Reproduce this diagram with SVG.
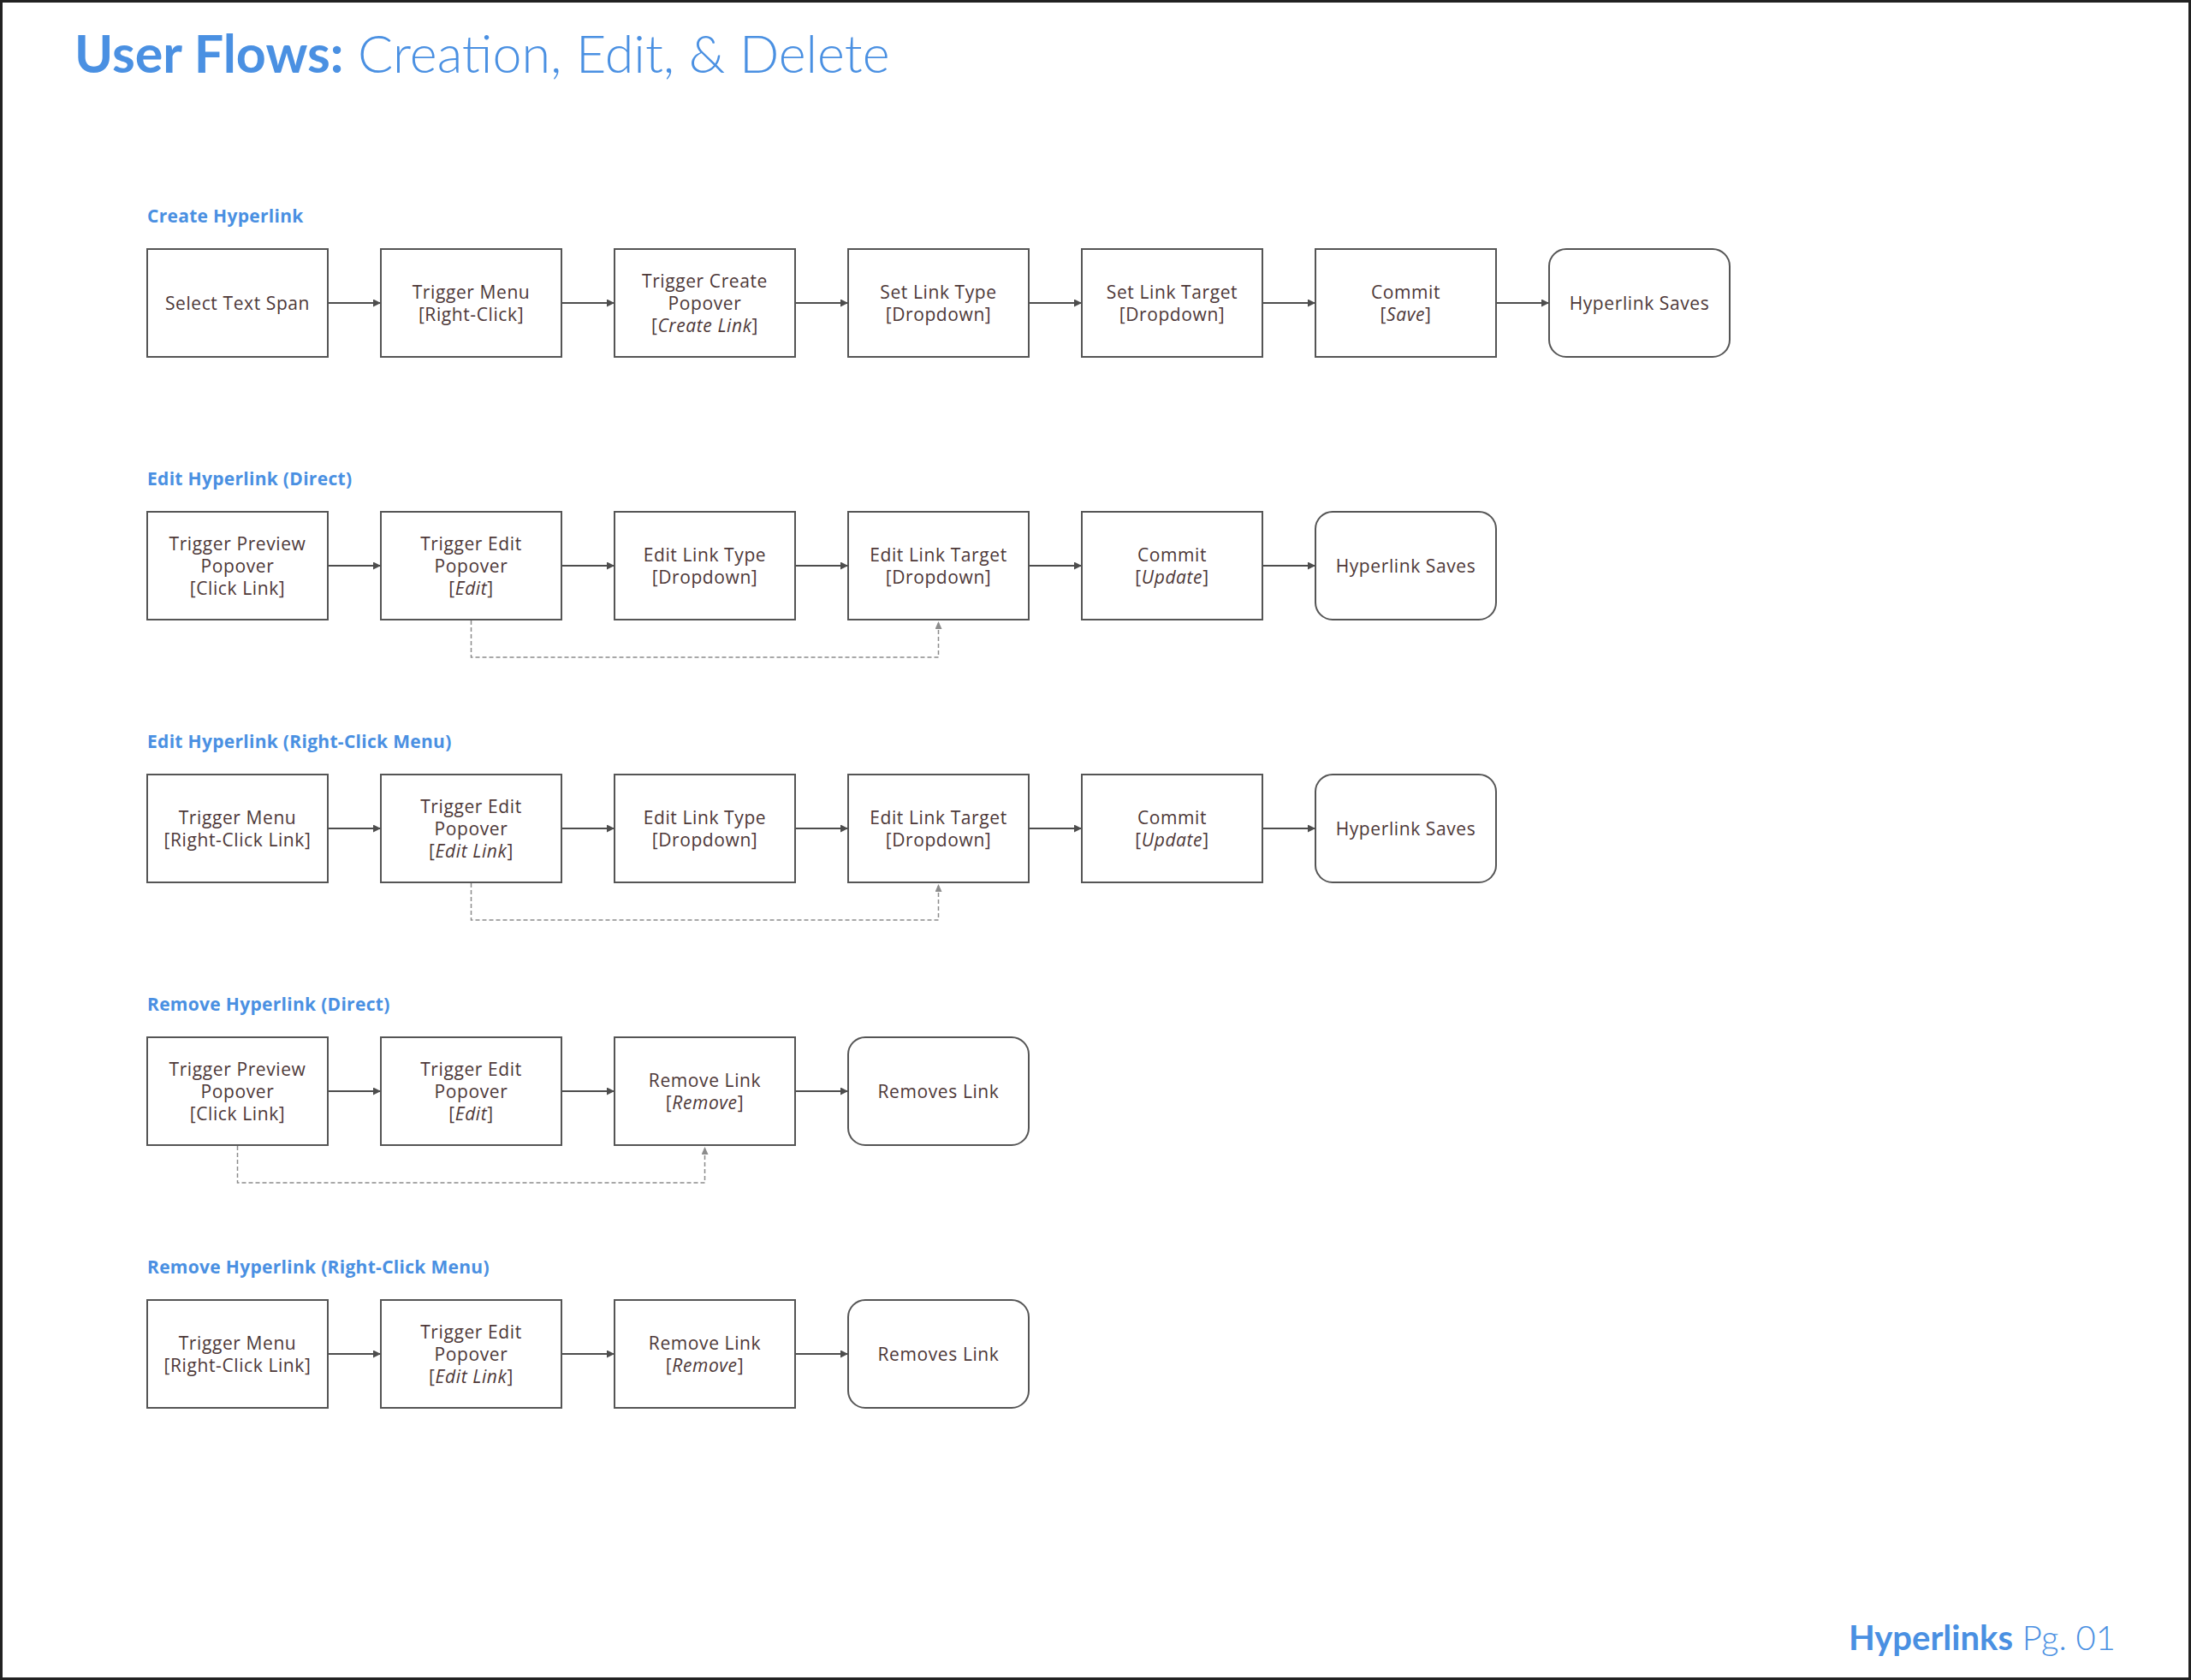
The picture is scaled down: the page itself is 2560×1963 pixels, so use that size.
<svg xmlns="http://www.w3.org/2000/svg" width="2560" height="1963" viewBox="0 0 2560 1963">
<defs>
<style>
.bx{fill:#ffffff;stroke:#555555;stroke-width:2}
.t{font-family:"Open Sans","Liberation Sans",sans-serif;font-size:21px;letter-spacing:0.6px;fill:#4d3838;text-anchor:middle}
.i{font-style:italic}
.lbl{font-family:"Open Sans","Liberation Sans",sans-serif;font-size:21px;letter-spacing:0.3px;font-weight:700;fill:#4a90e2}
.ar{stroke:#4d4d4d;stroke-width:2;fill:none;marker-end:url(#ah)}
.da{stroke:#8c8c8c;stroke-width:1.5;fill:none;stroke-dasharray:5 3;marker-end:url(#ahg)}
</style>
<marker id="ah" markerUnits="userSpaceOnUse" markerWidth="10" markerHeight="10" refX="9" refY="4.5" orient="auto"><path d="M0,0 L9,4.5 L0,9 z" fill="#4d4d4d"/></marker>
<marker id="ahg" markerUnits="userSpaceOnUse" markerWidth="10" markerHeight="10" refX="9" refY="4" orient="auto"><path d="M0,0 L9,4 L0,8 z" fill="#8c8c8c"/></marker>
</defs>
<rect x="0" y="0" width="2560" height="1963" fill="#ffffff"/>
<rect x="1.5" y="1.5" width="2557" height="1960" fill="none" stroke="#222222" stroke-width="3"/>

<g id="title">
<text x="87" y="85" font-family="Lato,'Open Sans',sans-serif" font-size="61" fill="#4a90e2"><tspan font-weight="700">User Flows:</tspan><tspan font-weight="300"> Creation, Edit, &amp; Delete</tspan></text>
</g>
<g id="footer">
<text x="2472" y="1928" text-anchor="end" font-family="Lato,'Open Sans',sans-serif" font-size="40" fill="#4a90e2"><tspan font-weight="700">Hyperlinks</tspan><tspan font-weight="300"> Pg. 01</tspan></text>
</g>

<g id="labels">
<text class="lbl" x="172" y="260">Create Hyperlink</text>
<text class="lbl" x="172" y="567">Edit Hyperlink (Direct)</text>
<text class="lbl" x="172" y="874">Edit Hyperlink (Right-Click Menu)</text>
<text class="lbl" x="172" y="1181">Remove Hyperlink (Direct)</text>
<text class="lbl" x="172" y="1488">Remove Hyperlink (Right-Click Menu)</text>
</g>

<g id="connectors">
<path class="ar" d="M383,354 H445"/>
<path class="ar" d="M656,354 H718"/>
<path class="ar" d="M929,354 H991"/>
<path class="ar" d="M1202,354 H1264"/>
<path class="ar" d="M1475,354 H1537"/>
<path class="ar" d="M1748,354 H1810"/>

<path class="ar" d="M383,661 H445"/>
<path class="ar" d="M656,661 H718"/>
<path class="ar" d="M929,661 H991"/>
<path class="ar" d="M1202,661 H1264"/>
<path class="ar" d="M1475,661 H1537"/>
<path class="da" d="M550.5,725 V768 H1096.5 V726"/>

<path class="ar" d="M383,968 H445"/>
<path class="ar" d="M656,968 H718"/>
<path class="ar" d="M929,968 H991"/>
<path class="ar" d="M1202,968 H1264"/>
<path class="ar" d="M1475,968 H1537"/>
<path class="da" d="M550.5,1032 V1075 H1096.5 V1033"/>

<path class="ar" d="M383,1275 H445"/>
<path class="ar" d="M656,1275 H718"/>
<path class="ar" d="M929,1275 H991"/>
<path class="da" d="M277.5,1339 V1382 H823.5 V1340"/>

<path class="ar" d="M383,1582 H445"/>
<path class="ar" d="M656,1582 H718"/>
<path class="ar" d="M929,1582 H991"/>
</g>

<!-- Row 1 -->
<g id="c1"><rect class="bx" x="172" y="291" width="211" height="126"/><text class="t" x="277.5" y="362">Select Text Span</text></g>
<g id="c2"><rect class="bx" x="445" y="291" width="211" height="126"/><text class="t" x="550.5" y="349">Trigger Menu</text><text class="t" x="550.5" y="375">[Right-Click]</text></g>
<g id="c3"><rect class="bx" x="718" y="291" width="211" height="126"/><text class="t" x="823.5" y="336">Trigger Create</text><text class="t" x="823.5" y="362">Popover</text><text class="t" x="823.5" y="388">[<tspan class="i">Create Link</tspan>]</text></g>
<g id="c4"><rect class="bx" x="991" y="291" width="211" height="126"/><text class="t" x="1096.5" y="349">Set Link Type</text><text class="t" x="1096.5" y="375">[Dropdown]</text></g>
<g id="c5"><rect class="bx" x="1264" y="291" width="211" height="126"/><text class="t" x="1369.5" y="349">Set Link Target</text><text class="t" x="1369.5" y="375">[Dropdown]</text></g>
<g id="c6"><rect class="bx" x="1537" y="291" width="211" height="126"/><text class="t" x="1642.5" y="349">Commit</text><text class="t" x="1642.5" y="375">[<tspan class="i">Save</tspan>]</text></g>
<g id="c7"><rect class="bx" x="1810" y="291" width="211" height="126" rx="20"/><text class="t" x="1915.5" y="362">Hyperlink Saves</text></g>

<!-- Row 2 -->
<g id="ed1"><rect class="bx" x="172" y="598" width="211" height="126"/><text class="t" x="277.5" y="643">Trigger Preview</text><text class="t" x="277.5" y="669">Popover</text><text class="t" x="277.5" y="695">[Click Link]</text></g>
<g id="ed2"><rect class="bx" x="445" y="598" width="211" height="126"/><text class="t" x="550.5" y="643">Trigger Edit</text><text class="t" x="550.5" y="669">Popover</text><text class="t" x="550.5" y="695">[<tspan class="i">Edit</tspan>]</text></g>
<g id="ed3"><rect class="bx" x="718" y="598" width="211" height="126"/><text class="t" x="823.5" y="656">Edit Link Type</text><text class="t" x="823.5" y="682">[Dropdown]</text></g>
<g id="ed4"><rect class="bx" x="991" y="598" width="211" height="126"/><text class="t" x="1096.5" y="656">Edit Link Target</text><text class="t" x="1096.5" y="682">[Dropdown]</text></g>
<g id="ed5"><rect class="bx" x="1264" y="598" width="211" height="126"/><text class="t" x="1369.5" y="656">Commit</text><text class="t" x="1369.5" y="682">[<tspan class="i">Update</tspan>]</text></g>
<g id="ed6"><rect class="bx" x="1537" y="598" width="211" height="126" rx="20"/><text class="t" x="1642.5" y="669">Hyperlink Saves</text></g>

<!-- Row 3 -->
<g id="er1"><rect class="bx" x="172" y="905" width="211" height="126"/><text class="t" x="277.5" y="963">Trigger Menu</text><text class="t" x="277.5" y="989">[Right-Click Link]</text></g>
<g id="er2"><rect class="bx" x="445" y="905" width="211" height="126"/><text class="t" x="550.5" y="950">Trigger Edit</text><text class="t" x="550.5" y="976">Popover</text><text class="t" x="550.5" y="1002">[<tspan class="i">Edit Link</tspan>]</text></g>
<g id="er3"><rect class="bx" x="718" y="905" width="211" height="126"/><text class="t" x="823.5" y="963">Edit Link Type</text><text class="t" x="823.5" y="989">[Dropdown]</text></g>
<g id="er4"><rect class="bx" x="991" y="905" width="211" height="126"/><text class="t" x="1096.5" y="963">Edit Link Target</text><text class="t" x="1096.5" y="989">[Dropdown]</text></g>
<g id="er5"><rect class="bx" x="1264" y="905" width="211" height="126"/><text class="t" x="1369.5" y="963">Commit</text><text class="t" x="1369.5" y="989">[<tspan class="i">Update</tspan>]</text></g>
<g id="er6"><rect class="bx" x="1537" y="905" width="211" height="126" rx="20"/><text class="t" x="1642.5" y="976">Hyperlink Saves</text></g>

<!-- Row 4 -->
<g id="rd1"><rect class="bx" x="172" y="1212" width="211" height="126"/><text class="t" x="277.5" y="1257">Trigger Preview</text><text class="t" x="277.5" y="1283">Popover</text><text class="t" x="277.5" y="1309">[Click Link]</text></g>
<g id="rd2"><rect class="bx" x="445" y="1212" width="211" height="126"/><text class="t" x="550.5" y="1257">Trigger Edit</text><text class="t" x="550.5" y="1283">Popover</text><text class="t" x="550.5" y="1309">[<tspan class="i">Edit</tspan>]</text></g>
<g id="rd3"><rect class="bx" x="718" y="1212" width="211" height="126"/><text class="t" x="823.5" y="1270">Remove Link</text><text class="t" x="823.5" y="1296">[<tspan class="i">Remove</tspan>]</text></g>
<g id="rd4"><rect class="bx" x="991" y="1212" width="211" height="126" rx="20"/><text class="t" x="1096.5" y="1283">Removes Link</text></g>

<!-- Row 5 -->
<g id="rr1"><rect class="bx" x="172" y="1519" width="211" height="126"/><text class="t" x="277.5" y="1577">Trigger Menu</text><text class="t" x="277.5" y="1603">[Right-Click Link]</text></g>
<g id="rr2"><rect class="bx" x="445" y="1519" width="211" height="126"/><text class="t" x="550.5" y="1564">Trigger Edit</text><text class="t" x="550.5" y="1590">Popover</text><text class="t" x="550.5" y="1616">[<tspan class="i">Edit Link</tspan>]</text></g>
<g id="rr3"><rect class="bx" x="718" y="1519" width="211" height="126"/><text class="t" x="823.5" y="1577">Remove Link</text><text class="t" x="823.5" y="1603">[<tspan class="i">Remove</tspan>]</text></g>
<g id="rr4"><rect class="bx" x="991" y="1519" width="211" height="126" rx="20"/><text class="t" x="1096.5" y="1590">Removes Link</text></g>
</svg>
